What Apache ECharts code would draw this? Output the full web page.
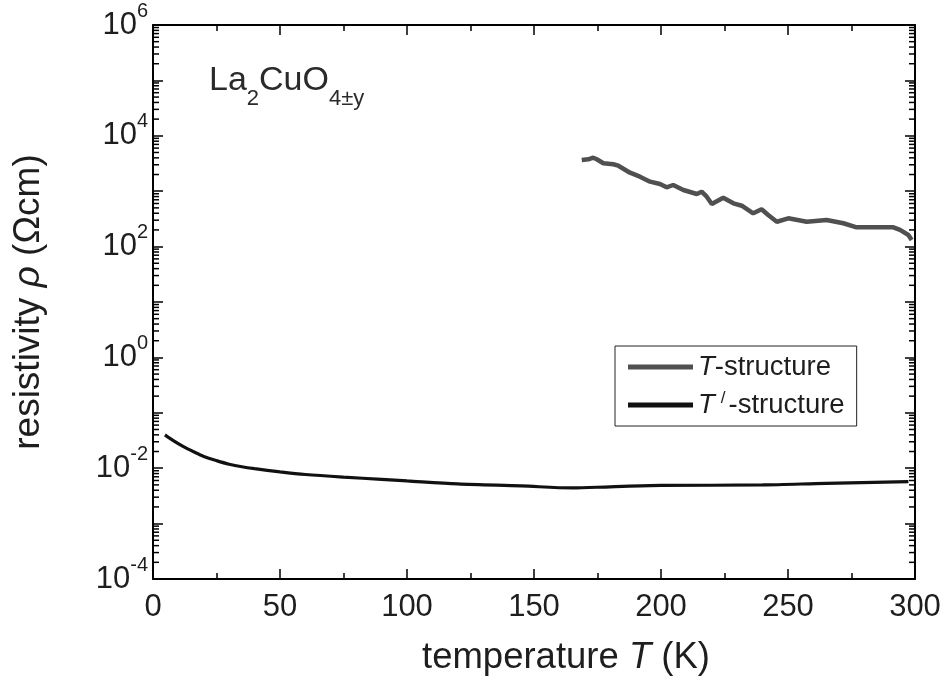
<!DOCTYPE html>
<html>
<head>
<meta charset="utf-8">
<script src="https://cdn.jsdelivr.net/npm/echarts@6/dist/echarts.min.js"></script>
<style>
html,body{margin:0;padding:0;background:#fff;}
#chart{width:947px;height:684px;}
</style>
</head>
<body>
<div id="chart"></div>
<script>
// T-structure (grey) : temperature (K) and resistivity (Ohm cm)
const tStructT = [168.8,171.4,173.3,174.7,177.3,181.2,183.2,187.8,191.7,195.7,199.6,202.2,204.8,208.8,214.1,216.0,218.0,220.0,224.5,228.5,231.8,236.3,239.6,242.2,245.6,250.1,257.4,265.2,271.8,277.0,291.5,294.1,297.4,298.7];
const tStructRho = [3656,3767,4027,3767,3190,3060,2886,2157,1828,1486,1349,1175,1294,1051,890,979,796,588,764,605,547,399,471,372,281,324,281,302,264,223,223,200,162,132];

// T'-structure (black)
const tPrimeT = [4.7,8,12,16,20,25,30,35,40,50,60,75,90,100,120,145,165,180,200,240,265,297.4];
const tPrimeRho = [0.040,0.0315,0.0245,0.0198,0.0163,0.0137,0.0118,0.0106,0.0098,0.0086,0.0077,0.0069,0.0063,0.0059,0.0052,0.00478,0.00440,0.00462,0.00488,0.00498,0.00533,0.0057];

const seriesNames = ['T-structure', "T'-structure"];
const xTicks = [0,50,100,150,200,250,300];
const yMin = 1e-4, yMax = 1e6;
// log-axis minor tick positions: multipliers within each decade
const minorMultipliers = [2,3,4,5,6,7,8,9];
const decades = [-4,-3,-2,-1,0,1,2,3,4,5];

const FONT = '"Liberation Sans", Arial, Helvetica, sans-serif';
const TXT = '#1e1e1e';

function zip(a, b){ return a.map((v,i)=>[v,b[i]]); }

const minorTickData = [];
decades.forEach(e => minorMultipliers.forEach(m => minorTickData.push([xTicks[0], m * Math.pow(10, e)])));

const chart = echarts.init(document.getElementById('chart'), null, {renderer:'canvas'});

const yLabelRich = {
  b: {fontSize: 31, fontFamily: FONT, color: TXT, lineHeight: 48},
  sup: {fontSize: 20, fontFamily: FONT, color: TXT, verticalAlign: 'top', lineHeight: 48}
};

function yFmt(v){
  const e = Math.round(Math.log10(v));
  if (e % 2 !== 0) return '';
  return '{b|10}{sup|' + e + '}';
}

const commonY = {
  type: 'log', logBase: 10, min: yMin, max: yMax, interval: 1,
  axisLine: {show: true, onZero: false, lineStyle: {color: '#000', width: 2}},
  axisTick: {show: true, inside: true, length: 10, lineStyle: {color: '#000', width: 1.5}},
  minorTick: {show: false},
  splitLine: {show: false},
  minorSplitLine: {show: false}
};

const commonX = {
  type: 'value', min: xTicks[0], max: xTicks[xTicks.length-1], interval: 50,
  axisLine: {show: true, onZero: false, lineStyle: {color: '#000', width: 2}},
  axisTick: {show: true, inside: true, length: 10, lineStyle: {color: '#000', width: 1.5}},
  minorTick: {show: true, splitNumber: 2, length: 6, lineStyle: {color: '#000', width: 1.5}},
  splitLine: {show: false}
};

const option = {
  backgroundColor: '#fff',
  animation: false,
  grid: {left: 153, right: 32, top: 25, bottom: 105, containLabel: false},
  xAxis: [
    Object.assign({}, commonX, {
      position: 'bottom',
      name: 'temperature {i|T} (K)',
      nameLocation: 'middle',
      nameGap: 60,
      nameTextStyle: {fontSize: 36.5, fontFamily: FONT, color: TXT, padding: [0,0,0,64],
        rich: {i: {fontSize: 36.5, fontFamily: FONT, color: TXT, fontStyle: 'italic'}}},
      axisLabel: {show: true, fontSize: 31, fontFamily: FONT, color: TXT, margin: 13}
    }),
    Object.assign({}, commonX, {
      position: 'top',
      axisLabel: {show: false}
    })
  ],
  yAxis: [
    Object.assign({}, commonY, {
      position: 'left',
      name: 'resistivity {i|ρ} (Ωcm)',
      nameLocation: 'middle',
      nameGap: 106,
      nameRotate: 90,
      nameTextStyle: {fontSize: 37, fontFamily: FONT, color: TXT,
        rich: {i: {fontSize: 37, fontFamily: FONT, color: TXT, fontStyle: 'italic'}}},
      axisLabel: {show: true, margin: 5, formatter: yFmt, rich: yLabelRich}
    }),
    Object.assign({}, commonY, {
      position: 'right',
      axisLabel: {show: false}
    })
  ],
  legend: {
    show: true,
    orient: 'vertical',
    left: 615, top: 346,
    padding: [6, 12, 6, 13],
    itemGap: 8,
    itemWidth: 65,
    itemHeight: 5,
    icon: 'rect',
    borderColor: '#222',
    borderWidth: 1,
    backgroundColor: '#fff',
    data: seriesNames,
    formatter: function(name){
      return name === seriesNames[0] ? '{i|T}{n|-structure}' : '{i|T}{sup|/}{n|-structure}';
    },
    textStyle: {
      fontSize: 27.5, fontFamily: FONT, color: TXT, lineHeight: 30,
      rich: {
        n: {fontSize: 27.5, fontFamily: FONT, color: TXT, lineHeight: 30},
        i: {fontSize: 27.5, fontFamily: FONT, color: TXT, fontStyle: 'italic', lineHeight: 30},
        sup: {fontSize: 17, fontFamily: FONT, color: TXT, verticalAlign: 'top', lineHeight: 30, padding: [0, 3, 0, 6]}
      }
    }
  },
  graphic: [{
    type: 'text',
    left: 209, top: 64,
    style: {
      text: '{m|La}{s|2}{m|CuO}{s|4±y}',
      rich: {
        m: {fontSize: 34, fontFamily: FONT, fill: '#2a2a2a', lineHeight: 58},
        s: {fontSize: 22, fontFamily: FONT, fill: '#2a2a2a', verticalAlign: 'bottom', lineHeight: 58}
      }
    }
  }],
  series: [
    {
      name: seriesNames[0], type: 'line', xAxisIndex: 0, yAxisIndex: 0,
      data: zip(tStructT, tStructRho),
      showSymbol: false, symbol: 'none', smooth: false,
      color: '#505050',
      lineStyle: {color: '#505050', width: 4.5}
    },
    {
      name: seriesNames[1], type: 'line', xAxisIndex: 0, yAxisIndex: 0,
      data: zip(tPrimeT, tPrimeRho),
      showSymbol: false, symbol: 'none', smooth: 0.3,
      color: '#111',
      lineStyle: {color: '#111', width: 3.2}
    },
    {
      name: 'minorTicks', type: 'custom', xAxisIndex: 0, yAxisIndex: 0,
      silent: true, clip: false, z: 5,
      data: minorTickData,
      encode: {x: 0, y: 1},
      renderItem: function(params, api){
        const v = api.value(1);
        const pL = api.coord([xTicks[0], v]);
        const pR = api.coord([xTicks[xTicks.length-1], v]);
        return {
          type: 'group',
          children: [
            {type: 'line', shape: {x1: pL[0], y1: pL[1], x2: pL[0] + 6, y2: pL[1]}, style: {stroke: '#000', lineWidth: 1.5}},
            {type: 'line', shape: {x1: pR[0], y1: pR[1], x2: pR[0] - 6, y2: pR[1]}, style: {stroke: '#000', lineWidth: 1.5}}
          ]
        };
      }
    }
  ]
};

chart.setOption(option);
</script>
</body>
</html>
